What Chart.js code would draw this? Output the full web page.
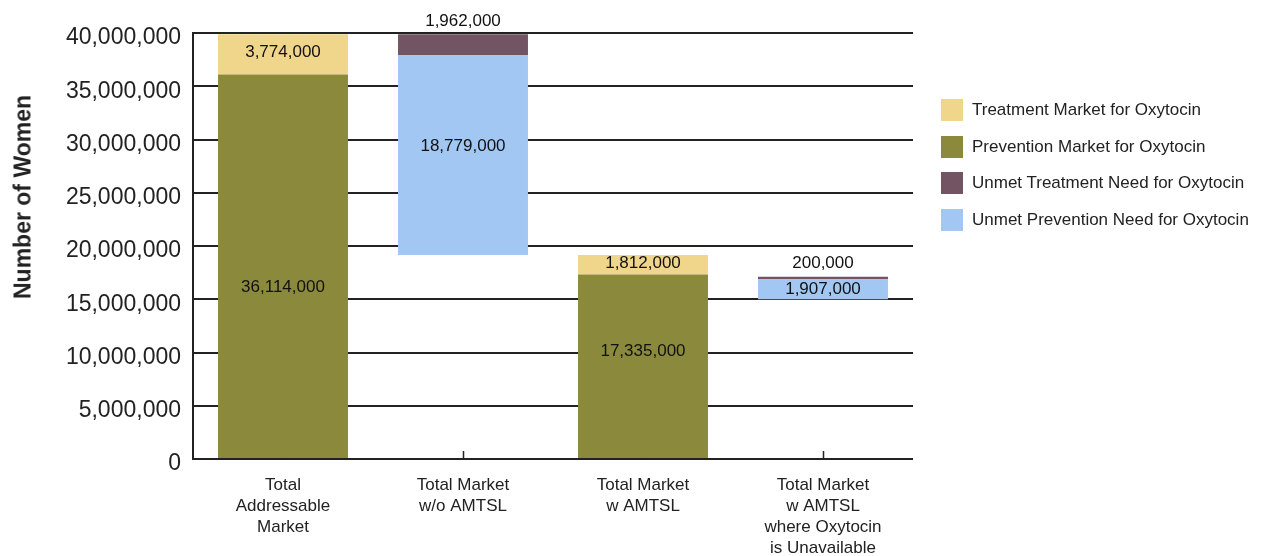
<!DOCTYPE html>
<html>
<head>
<meta charset="utf-8">
<script src="https://cdn.jsdelivr.net/npm/chart.js@4.4.1/dist/chart.umd.min.js"></script>
<style>
    body { margin: 0; background: #fff; }
    #wrap { position: relative; width: 1267px; height: 556px; font-family: "Liberation Sans", Arial, sans-serif; color: #222; }
    #yTitle { position: absolute; left: 23px; top: 197px; transform: translate(-50%, -50%) rotate(-90deg); font-weight: bold; font-size: 23px; white-space: nowrap; }
    #legend { position: absolute; left: 941px; top: 99px; margin: 0; padding: 0; list-style: none; }
    #legend li { display: flex; align-items: center; height: 22px; margin-bottom: 14.5px; font-size: 17px; }
    #legend li span.box { width: 22px; height: 22px; margin-right: 9px; }
</style>
</head>
<body>
<div id="wrap">
    <canvas id="myChart" width="1267" height="556"></canvas>
    <div id="yTitle">Number of Women</div>
    <ul id="legend"></ul>
</div>
<script>
const categories = [
    ["Total", "Addressable", "Market"],
    ["Total Market", "w/o AMTSL"],
    ["Total Market", "w AMTSL"],
    ["Total Market", "w AMTSL", "where Oxytocin", "is Unavailable"],
];
// invisible part under the floating bars
const floatBase = [0, 19147000, 0, 15000000];
const preventionMarket = [36114000, null, 17335000, null];
const unmetPrevention = [null, 18779000, null, 1907000];
const treatmentMarket = [3774000, null, 1812000, null];
const unmetTreatment = [null, 1962000, null, 200000];
const yTicks = [0, 5000000, 10000000, 15000000, 20000000, 25000000, 30000000, 35000000, 40000000];

const colors = {
    treatment: "#F0D68A",
    prevention: "#8B8A3C",
    unmetTreatment: "#735463",
    unmetPrevention: "#A3C7F3",
};

// where the value text goes: number = shift from segment middle, "top" = over the bar
const labelSpot = {
    prevention: [21, 0, -15, 0],
    unmetPrevention: [0, -9, 0, 0],
    treatment: [-2, 0, -1, 0],
    unmetTreatment: [0, "top", 0, "top"],
};

const FONT = "'Liberation Sans', Arial, sans-serif";

const valueLabels = {
    id: "valueLabels",
    afterDatasetsDraw(chart) {
        const ctx = chart.ctx;
        ctx.save();
        ctx.font = `17px ${FONT}`;
        ctx.fillStyle = "#111";
        ctx.textAlign = "center";
        ctx.textBaseline = "middle";
        chart.data.datasets.forEach(function (ds, i) {
            if (!ds.key) return;
            const meta = chart.getDatasetMeta(i);
            meta.data.forEach(function (bar, j) {
                const v = ds.data[j];
                if (v === null) return;
                const spot = labelSpot[ds.key][j];
                let y;
                if (spot === "top") y = Math.min(bar.y, bar.base) - 13;
                else y = (bar.y + bar.base) / 2 + spot;
                ctx.fillText(v.toLocaleString("en-US"), bar.x, y);
            });
        });
        ctx.restore();
    },
};

// short upward tick marks at each category, hidden behind the bars
const categoryTicks = {
    id: "categoryTicks",
    beforeDatasetsDraw(chart) {
        const ctx = chart.ctx;
        const x = chart.scales.x;
        const bottom = chart.chartArea.bottom;
        ctx.save();
        ctx.strokeStyle = "#222";
        ctx.lineWidth = 1.5;
        ctx.beginPath();
        for (let i = 0; i < categories.length; i++) {
            const px = Math.round(x.getPixelForTick(i)) + 0.5;
            ctx.moveTo(px, bottom);
            ctx.lineTo(px, bottom - 8);
        }
        ctx.stroke();
        ctx.restore();
    },
};

const ctx = document.querySelector("#myChart").getContext("2d");
const myChart = new Chart(ctx, {
    type: "bar",
    data: {
        labels: categories,
        datasets: [
            { label: "", data: floatBase, backgroundColor: "rgba(0,0,0,0)" },
            { key: "prevention", label: "Prevention Market for Oxytocin", data: preventionMarket, backgroundColor: colors.prevention },
            { key: "unmetPrevention", label: "Unmet Prevention Need for Oxytocin", data: unmetPrevention, backgroundColor: colors.unmetPrevention },
            { key: "treatment", label: "Treatment Market for Oxytocin", data: treatmentMarket, backgroundColor: colors.treatment },
            { key: "unmetTreatment", label: "Unmet Treatment Need for Oxytocin", data: unmetTreatment, backgroundColor: colors.unmetTreatment },
        ],
    },
    options: {
        responsive: false,
        animation: false,
        layout: { padding: { top: 33, right: 354, left: 0, bottom: 0 } },
        datasets: { bar: { categoryPercentage: 1, barPercentage: 0.722, borderWidth: 0 } },
        plugins: {
            legend: { display: false },
            tooltip: { enabled: false },
        },
        scales: {
            x: {
                stacked: true,
                grid: { display: false, drawTicks: false },
                border: { display: false },
                ticks: {
                    color: "#222",
                    font: { family: FONT, size: 17, lineHeight: 1.235 },
                    padding: 16,
                    maxRotation: 0,
                    autoSkip: false,
                },
                afterFit(scale) {
                    scale.height = 97;
                },
            },
            y: {
                stacked: true,
                min: 0,
                max: 40000000,
                afterBuildTicks(scale) {
                    scale.ticks = yTicks.map((v) => ({ value: v }));
                },
                grid: { color: "#222", lineWidth: 2, drawTicks: false },
                border: { color: "#222", width: 2 },
                ticks: {
                    color: "#222",
                    font: { family: FONT, size: 23 },
                    padding: 12,
                    labelOffset: 5,
                    callback: (v) => v.toLocaleString("en-US"),
                },
                afterFit(scale) {
                    scale.width = 193;
                },
            },
        },
    },
    plugins: [categoryTicks, valueLabels],
});

// legend beside the plot, in the order of the report
const legendOrder = ["treatment", "prevention", "unmetTreatment", "unmetPrevention"];
let output = "";
legendOrder.forEach(function (key) {
    const ds = myChart.data.datasets.find((d) => d.key === key);
    output += `<li><span class="box" style="background:${colors[key]}"></span>${ds.label}</li>`;
});
document.querySelector("#legend").innerHTML = output;
</script>
</body>
</html>
